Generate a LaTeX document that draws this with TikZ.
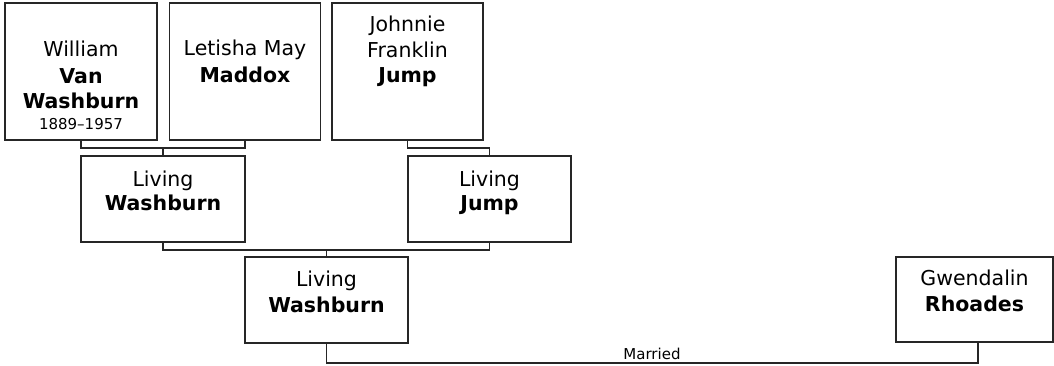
\documentclass[tikz,border=0pt]{standalone}
\usepackage{fontspec}
\setmainfont{DejaVu Sans}
\usetikzlibrary{calc}
\tikzset{
  box/.style={draw=black!85, line width=1.3pt, rectangle, inner sep=0pt, outer sep=0pt, fill=white},
  conn/.style={draw=black!85, line width=1.3pt},
  nm/.style={anchor=base, inner sep=0pt, font=\fontsize{20.5}{24}\selectfont},
  nb/.style={nm, font=\fontsize{20.5}{24}\selectfont\bfseries},
  small/.style={anchor=base, inner sep=0pt, font=\fontsize{15}{18}\selectfont}
}
\begin{document}
\begin{tikzpicture}[x=1pt,y=-1pt]
\useasboundingbox (0,0) rectangle (1054,366);
% boxes
\node[box, minimum width=152, minimum height=137] (w1) at (81,71.5) {};
\node[box, minimum width=151, minimum height=137] (w2) at (245,71.5) {};
\node[box, minimum width=151, minimum height=137] (w3) at (407.5,71.5) {};
\node[box, minimum width=164, minimum height=86] (p1) at (163,199) {};
\node[box, minimum width=163, minimum height=86] (p2) at (489.5,199) {};
\node[box, minimum width=163, minimum height=86] (c) at (326.5,300) {};
\node[box, minimum width=157, minimum height=85] (g) at (974.5,299.5) {};
% texts
\node[nm] (t1a) at (81,57) {William};
\node[nb] (t1b) at (81,84) {Van};
\node[nb] (t1c) at (81,109) {Washburn};
\node[small] (t1d) at (81,130) {1889–1957};
\node[nm] (t2a) at (245,56) {Letisha May};
\node[nb] (t2b) at (245,83) {Maddox};
\node[nm] (t3a) at (407.5,32) {Johnnie};
\node[nm] (t3b) at (407.5,58) {Franklin};
\node[nb] (t3c) at (407.5,83) {Jump};
\node[nm] (t4a) at (163,186) {Living};
\node[nb] (t4b) at (163,211) {Washburn};
\node[nm] (t5a) at (489.5,186) {Living};
\node[nb] (t5b) at (489.5,211) {Jump};
\node[nm] (t6a) at (326.5,286) {Living};
\node[nb] (t6b) at (326.5,312) {Washburn};
\node[nm] (t7a) at (974.5,285) {Gwendalin};
\node[nb] (t7b) at (974.5,311) {Rhoades};
% connectors
\coordinate (j1) at (163,148);
\coordinate (j2) at (489.5,148);
\coordinate (j3) at (326.5,250);
\coordinate (j4) at (652,363);
\coordinate (gx) at ($(g.south)+(3.5,0)$);
\draw[conn] (w1.south) |- (j1) -| (w2.south);
\draw[conn] (j1) -- (p1.north);
\draw[conn] (w3.south) |- (j2) -- (p2.north);
\draw[conn] (p1.south) |- (j3) -| (p2.south);
\draw[conn] (j3) -- (c.north);
\draw[conn] (c.south) |- (j4) -| (gx);
\node[small, anchor=base] (mar) at (652,359) {Married};
\end{tikzpicture}
\end{document}
